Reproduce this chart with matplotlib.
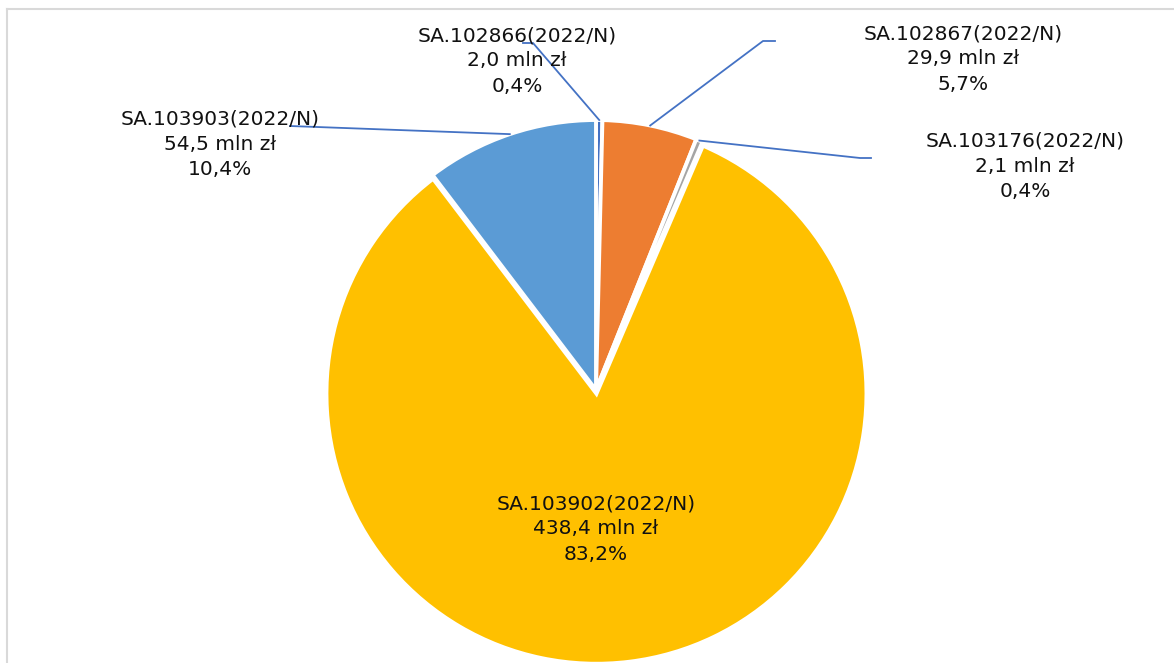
import numpy as np
import matplotlib
matplotlib.use("Agg")
import matplotlib.pyplot as plt

# data
names = ["SA.102866(2022/N)", "SA.102867(2022/N)", "SA.103176(2022/N)",
         "SA.103902(2022/N)", "SA.103903(2022/N)"]
values = [2.0, 29.9, 2.1, 438.4, 54.5]
value_labels = ["2,0 mln zł", "29,9 mln zł", "2,1 mln zł", "438,4 mln zł", "54,5 mln zł"]
pct_labels = ["0,4%", "5,7%", "0,4%", "83,2%", "10,4%"]
colors = ["#4472C4", "#ED7D31", "#A5A5A5", "#FFC000", "#5B9BD5"]
explode = [0, 0, 0, 0.014, 0]

W, H = 1174, 663
fig = plt.figure(figsize=(W / 100, H / 100), dpi=100)

# pie axes: center (596, 390) px, radius 270 px
cx, cy, r = 596, 390, 270
ax = fig.add_axes([(cx - r) / W, (H - cy - r) / H, 2 * r / W, 2 * r / H])
wedges, _ = ax.pie(values, colors=colors, startangle=90, counterclock=False,
                   explode=explode,
                   wedgeprops=dict(edgecolor="white", linewidth=2.8))
ax.set_xlim(-1, 1)
ax.set_ylim(-1, 1)
ax.set_aspect("equal")
ax.axis("off")

# overlay in pixel coordinates
ov = fig.add_axes([0, 0, 1, 1], zorder=5)
ov.set_xlim(0, W)
ov.set_ylim(H, 0)
ov.axis("off")
ov.patch.set_alpha(0)

# chart frame
ov.plot([7, 7], [H + 5, 9], color="#D9D9D9", lw=1.5, clip_on=False)
ov.plot([7, W + 5], [9, 9], color="#D9D9D9", lw=1.5, clip_on=False)

# label layout: text centre, leader knee, leader end
label_pos = [(517, 61), (963, 59), (1025, 166), (596, 529), (220, 144)]
knees = [[(523, 43), (533, 43)], [(775, 41), (763, 41)], [(871, 158), (860, 158)],
         None, [(290, 126)]]

for i, w in enumerate(wedges):
    txt = f"{names[i]}\n{value_labels[i]}\n{pct_labels[i]}"
    ov.text(label_pos[i][0], label_pos[i][1], txt, ha="center", va="center",
            fontsize=14.5, color="#111111", linespacing=1.42)
    if knees[i] is None:
        continue
    ang = np.deg2rad((w.theta1 + w.theta2) / 2)
    px, py = ax.transData.transform((np.cos(ang), np.sin(ang)))
    end = (px, H - py)
    pts = knees[i] + [end]
    ov.plot([p[0] for p in pts], [p[1] for p in pts], color="#4472C4", lw=1.3)

fig.savefig("out.png", dpi=100)
